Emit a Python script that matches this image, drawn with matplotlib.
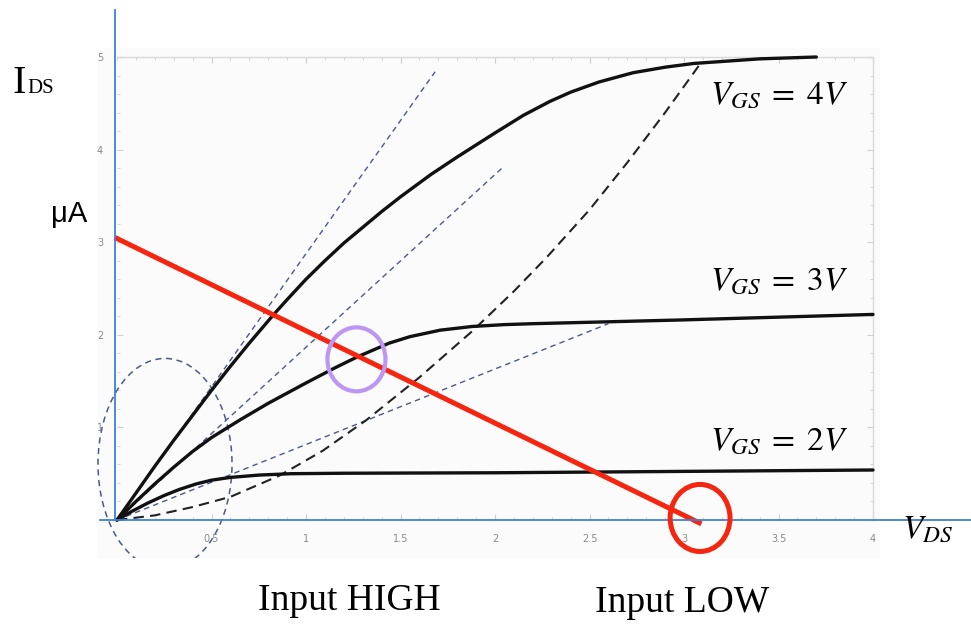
import matplotlib
matplotlib.use("Agg")
import matplotlib.pyplot as plt
from matplotlib.patches import Ellipse, Rectangle

plt.rcParams['mathtext.fontset'] = 'stix'

# V_DS / I_DS curves (V, uA)
vgs4_v = [0, 0.1, 0.2, 0.3, 0.4, 0.5, 0.6, 0.7, 0.825, 0.9, 1.0, 1.1, 1.2, 1.3, 1.4,
          1.5, 1.66, 1.8, 2.0, 2.15, 2.29, 2.4, 2.55, 2.73, 2.9, 3.05, 3.19, 3.4, 3.7]
vgs4_i = [0, 0.29, 0.58, 0.86, 1.13, 1.40, 1.66, 1.91, 2.21, 2.38, 2.60, 2.80, 2.99, 3.16, 3.33,
          3.49, 3.73, 3.92, 4.18, 4.37, 4.52, 4.62, 4.73, 4.83, 4.89, 4.93, 4.95, 4.98, 5.0]

vgs3_v = [0, 0.1, 0.2, 0.3, 0.4, 0.5, 0.65, 0.8, 1.0, 1.15, 1.27, 1.44, 1.55, 1.71,
          1.88, 2.05, 2.2, 2.98, 4.0]
vgs3_i = [0, 0.2, 0.39, 0.57, 0.74, 0.89, 1.08, 1.26, 1.48, 1.64, 1.76, 1.91, 1.98, 2.05,
          2.09, 2.11, 2.12, 2.16, 2.22]

vgs2_v = [0, 0.08, 0.16, 0.25, 0.33, 0.42, 0.5, 0.6, 0.75, 0.92, 1.2, 2.0, 3.0, 4.0]
vgs2_i = [0, 0.095, 0.18, 0.265, 0.33, 0.39, 0.43, 0.46, 0.485, 0.50, 0.505, 0.51, 0.525, 0.54]

# saturation boundary (black dashed)
sat_v = [0, 0.2, 0.4, 0.6, 0.86, 0.98, 1.09, 1.32, 1.6, 1.88, 2.1, 2.275, 2.5, 2.7, 2.9, 3.08]
sat_i = [0, 0.05, 0.14, 0.25, 0.48, 0.62, 0.75, 1.08, 1.54, 2.04, 2.47, 2.84, 3.35, 3.86, 4.40, 4.91]

# tangent lines from the origin (thin dashed): end points
tan_v = [1.683, 2.037, 2.60]
tan_i = [4.84, 3.80, 2.12]

# load line
load_v = [0, 3.08]
load_i = [3.04, -0.03]

# markers: (centre v, centre i, width v, height i)
q_high = (1.267, 1.735, 0.307, 0.691)
q_low = (3.085, 0.022, 0.317, 0.724)
origin_zone = (0.254, 0.605, 0.709, 2.28)

x_ticks = [0.5, 1, 1.5, 2, 2.5, 3, 3.5, 4]
x_tick_labels = ['0.5', '1', '1.5', '2', '2.5', '3', '3.5', '4']
y_ticks = [1, 2, 3, 4, 5]
y_tick_labels = ['1', '2', '3', '4', '5']

W, H = 971, 624
fig = plt.figure(figsize=(W / 100, H / 100), dpi=100)


def fx(px):
    return px / W


def fy(py):
    return 1 - py / H


# light panel behind the original plot
fig.patches.append(Rectangle((fx(98), fy(558)), fx(880) - fx(98), fy(48) - fy(558),
                             transform=fig.transFigure, facecolor='#fbfbfb',
                             edgecolor='none', zorder=-5))

ax = fig.add_axes([fx(117), fy(520), fx(873) - fx(117), fy(57) - fy(520)])
ax.set_xlim(0, 4)
ax.set_ylim(0, 5)
ax.set_facecolor('#fbfbfb')
for side in ['top', 'right']:
    ax.spines[side].set_color('#d9d9d9')
    ax.spines[side].set_linewidth(1.0)
for side in ['left', 'bottom']:
    ax.spines[side].set_visible(False)

ax.set_xticks(x_ticks)
ax.set_xticklabels(x_tick_labels)
ax.set_yticks(y_ticks)
ax.set_yticklabels(y_tick_labels)
ax.set_xticks([i / 10 for i in range(41)], minor=True)
ax.set_yticks([i / 5 for i in range(26)], minor=True)
ax.tick_params(which='both', direction='in', top=True, right=True,
               color='#cfcfcf', labelcolor='#8a8a8a', labelsize=7)
ax.tick_params(which='major', length=4, pad=10)
ax.tick_params(which='minor', length=2)

# blue axes
ax.plot([-0.01, -0.01], [0, 5.51], color='#3f7fd6', lw=1.3, clip_on=False, zorder=6)
ax.plot([-0.09, 4.52], [0, 0], color='#3f7fd6', lw=1.3, clip_on=False, zorder=6)

# tangent lines
for v, i in zip(tan_v, tan_i):
    ax.plot([0, v], [0, i], color='#4c5a86', lw=1.0, ls=(0, (4, 3)), clip_on=False, zorder=3)

ax.plot(sat_v, sat_i, color='#222222', lw=1.5, ls=(0, (5, 3)), clip_on=False, zorder=3)

for v, i in [(vgs4_v, vgs4_i), (vgs3_v, vgs3_i), (vgs2_v, vgs2_i)]:
    ax.plot(v, i, color='#111111', lw=2.4, clip_on=False, zorder=4,
            solid_capstyle='round', solid_joinstyle='round')

ax.plot(load_v, load_i, color='#f5250f', lw=3.6, clip_on=False, zorder=5)

cx, cy, w, h = origin_zone
ell = Ellipse((cx, cy), w, h, fill=False, edgecolor='#4c5a86', lw=1.1,
              ls=(0, (4, 3)), zorder=3)
ax.add_patch(ell)
clip = Rectangle((0, fy(558)), 1, 1 - fy(558), transform=fig.transFigure)
ell.set_clip_path(clip)

cx, cy, w, h = q_high
ax.add_patch(Ellipse((cx, cy), w, h, fill=False, edgecolor='#bd95f3', lw=3.0,
                     clip_on=False, zorder=6))
cx, cy, w, h = q_low
ax.add_patch(Ellipse((cx, cy), w, h, fill=False, edgecolor='#f5250f', lw=3.6,
                     clip_on=False, zorder=6))

# labels
fig.text(fx(12), fy(93), 'I', fontsize=29, family='Liberation Serif', va='baseline')
fig.text(fx(27), fy(93), 'DS', fontsize=15, family='Liberation Serif', va='baseline')
fig.text(fx(51), fy(222), 'μA', fontsize=21, family='Liberation Sans', va='baseline')

fig.text(fx(710), fy(103), r'$V_{GS}\;=\;4V$', fontsize=24, va='baseline')
fig.text(fx(710), fy(289), r'$V_{GS}\;=\;3V$', fontsize=24, va='baseline')
fig.text(fx(710), fy(450), r'$V_{GS}\;=\;2V$', fontsize=24, va='baseline')
fig.text(fx(902), fy(537), r'$V_{DS}$', fontsize=24, va='baseline')

fig.text(fx(258), fy(610), 'Input HIGH', fontsize=27, family='Liberation Serif', va='baseline')
fig.text(fx(595), fy(612), 'Input LOW', fontsize=27, family='Liberation Serif', va='baseline')

fig.savefig('out.png', dpi=100)
